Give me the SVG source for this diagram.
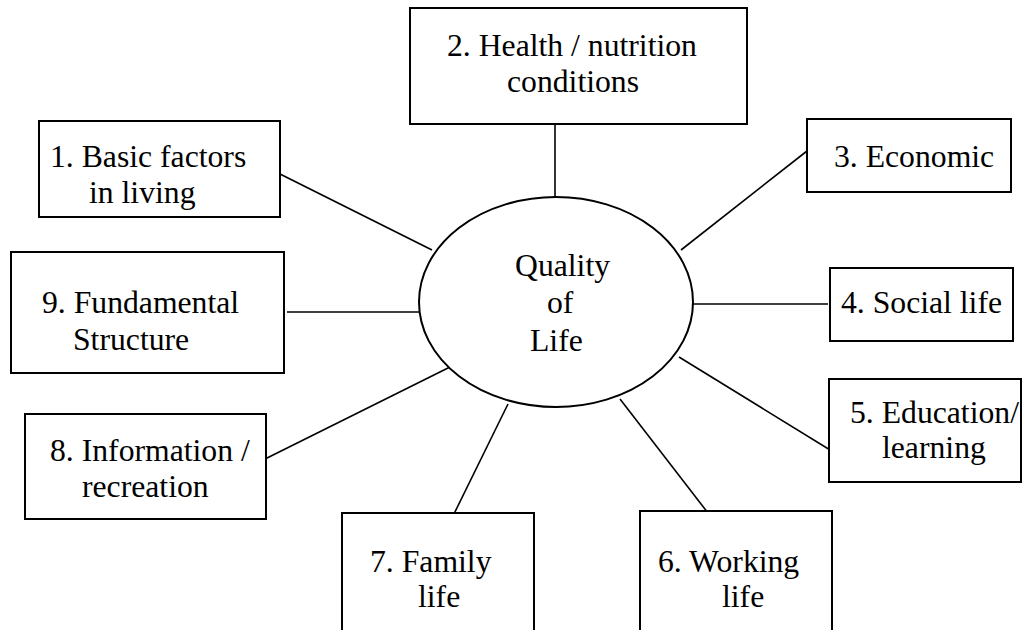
<svg xmlns="http://www.w3.org/2000/svg" width="1022" height="630" viewBox="0 0 1022 630">
<style>
.box{fill:#fff;stroke:#000;stroke-width:2}
.ell{fill:#fff;stroke:#000;stroke-width:2}
.t{font-family:"Liberation Serif","Times New Roman",serif;font-size:31.7px;fill:#000}
.c line{stroke:#000;stroke-width:1.6}
</style>
<rect width="1022" height="630" fill="#fff"/>
<g class="c" id="connectors">
<line x1="278" y1="173" x2="432" y2="250"/>
<line x1="555" y1="124" x2="555" y2="202"/>
<line x1="807" y1="151" x2="681" y2="250"/>
<line x1="693" y1="304" x2="828" y2="304"/>
<line x1="287" y1="312" x2="423" y2="312"/>
<line x1="679" y1="357" x2="835" y2="453"/>
<line x1="620" y1="399" x2="708" y2="513"/>
<line x1="508" y1="404" x2="451" y2="520"/>
<line x1="452" y1="366" x2="259" y2="462"/>
</g>
<g id="center">
<ellipse class="ell" cx="556" cy="302" rx="137" ry="105"/>
<text class="t" x="515" y="276">Quality</text>
<text class="t" x="547" y="313">of</text>
<text class="t" x="530" y="351">Life</text>
</g>
<g id="n1">
<rect class="box" x="39" y="121" width="241" height="96"/>
<text class="t" x="50" y="167">1. Basic factors</text>
<text class="t" x="89" y="203">in living</text>
</g>
<g id="n2">
<rect class="box" x="410" y="8" width="337" height="116"/>
<text class="t" x="447" y="56">2. Health / nutrition</text>
<text class="t" x="507" y="92">conditions</text>
</g>
<g id="n3">
<rect class="box" x="807" y="119" width="204" height="73"/>
<text class="t" x="834" y="167">3. Economic</text>
</g>
<g id="n4">
<rect class="box" x="830" y="268" width="183" height="73"/>
<text class="t" x="841" y="313">4. Social life</text>
</g>
<g id="n5">
<rect class="box" x="829" y="379" width="192" height="103"/>
<text class="t" x="850" y="423">5. Education/</text>
<text class="t" x="882" y="458">learning</text>
</g>
<g id="n6">
<rect class="box" x="640" y="511" width="192" height="130"/>
<text class="t" x="658" y="572">6. Working</text>
<text class="t" x="722" y="607">life</text>
</g>
<g id="n7">
<rect class="box" x="342" y="513" width="192" height="130"/>
<text class="t" x="370" y="572">7. Family</text>
<text class="t" x="418" y="607">life</text>
</g>
<g id="n8">
<rect class="box" x="25" y="414" width="241" height="105"/>
<text class="t" x="50" y="461">8. Information /</text>
<text class="t" x="82" y="497">recreation</text>
</g>
<g id="n9">
<rect class="box" x="11" y="252" width="273" height="121"/>
<text class="t" x="42" y="313">9. Fundamental</text>
<text class="t" x="73" y="350">Structure</text>
</g>
</svg>
